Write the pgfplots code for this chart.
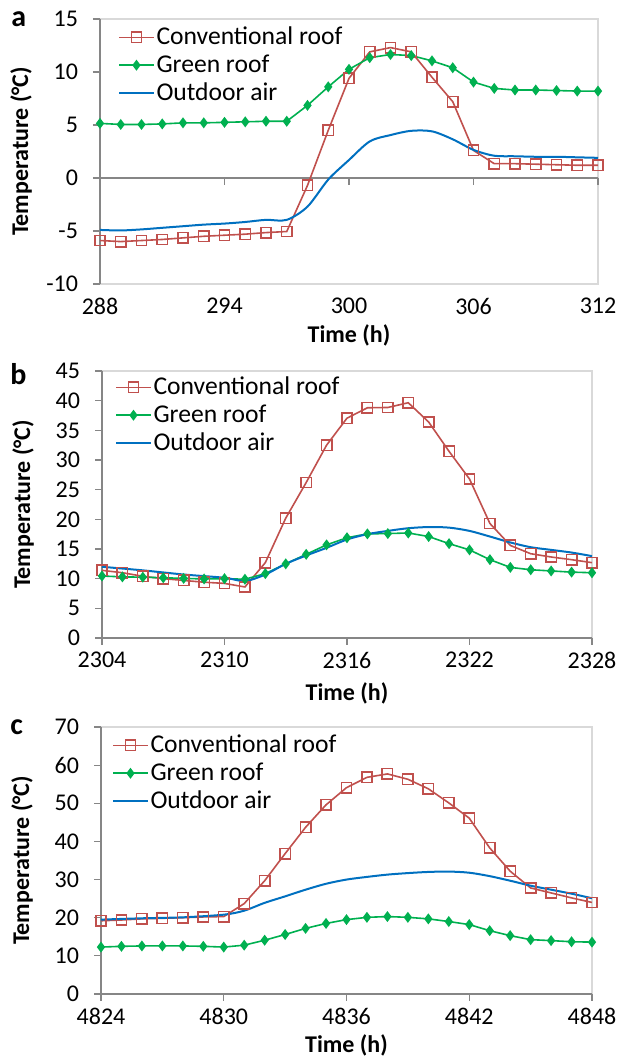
\documentclass[border=0pt]{standalone}
\usepackage{fontspec}
\setmainfont{Carlito}
\usepackage{pgfplots}
\pgfplotsset{compat=1.18}

\definecolor{convred}{HTML}{C0504D}
\definecolor{greenroof}{HTML}{00B050}
\definecolor{airblue}{HTML}{0070C0}
\definecolor{axgray}{HTML}{868686}
\definecolor{bordergray}{HTML}{D9D9D9}

\pgfplotsset{
  roofpanel/.style={
    scale only axis,
    axis line style={draw=none},
    tick align=outside,
    xtick pos=bottom, ytick pos=left,
    major tick length=3.5pt,
    tick style={axgray, line width=0.6pt},
    /pgf/number format/assume math mode=true,
    /pgf/number format/1000 sep={},
    tick label style={font=\fontsize{12}{14}\selectfont},
    yticklabel style={xshift=-4pt},
    every axis x label/.style={at={(axis description cs:0.5,0)}, anchor=center, yshift=-25.5pt,
      font=\bfseries\fontsize{12}{14}\selectfont},
    every axis y label/.style={at={(axis description cs:0,0.5)}, xshift=-39.5pt, rotate=90, anchor=center,
      font=\bfseries\fontsize{12}{14}\selectfont},
    xlabel={Time (h)},
    ylabel={Temperature (°C)},
    legend cell align=left,
    legend style={draw=none, fill=none, inner sep=0pt, row sep=0pt,
      font=\fontsize{12.8}{14}\selectfont, nodes={inner xsep=1pt, inner ysep=1.8pt},
      at={(0,1)}, anchor=north west},
    clip=false,
  },
  conv/.style={convred, line width=0.8pt, mark=square, mark size=2.6pt, mark options={fill=white, line width=0.75pt}},
  green/.style={greenroof, line width=0.8pt, mark=diamond*, mark size=2.1pt},
  air/.style={airblue, line width=1pt, no marks, smooth},
}

\begin{document}
\begin{tikzpicture}
\path[use as bounding box] (0pt,0pt) rectangle (308.5pt,529.5pt);

% panel a
\begin{axis}[roofpanel, at={(50pt,387.5pt)}, anchor=south west,
  width=249pt, height=132.5pt,
  xmin=288, xmax=312, ymin=-10, ymax=15,
  xtick={288,294,300,306,312},
  ytick={-10,-5,0,5,10,15}, yticklabels={-10,-5,0,5,10,15},
  major x tick style={draw=none},
  legend style={xshift=9pt, yshift=-2pt}]
\draw[bordergray, line width=0.6pt] (rel axis cs:0,0) -- (rel axis cs:1,0) -- (rel axis cs:1,1) -- (rel axis cs:0,1);
\draw[axgray, line width=0.6pt] (rel axis cs:0,0) -- (rel axis cs:0,1);
\draw[axgray, line width=0.6pt] (axis cs:288,0) -- (axis cs:312,0);
\pgfplotsinvokeforeach{288,294,300,306,312}{\draw[axgray, line width=0.6pt] (axis cs:#1,0) -- ++(0pt,-3.5pt);}
\addplot[conv] coordinates {
(288,-5.9) (289,-6.0) (290,-5.9) (291,-5.8) (292,-5.65) (293,-5.5) (294,-5.4) (295,-5.3)
(296,-5.15) (297,-5.05) (298,-0.7) (299,4.5) (300,9.4) (301,11.9) (302,12.3) (303,11.9)
(304,9.5) (305,7.2) (306,2.6) (307,1.35) (308,1.35) (309,1.3) (310,1.25) (311,1.2) (312,1.2)};
\addplot[green] coordinates {
(288,5.15) (289,5.05) (290,5.05) (291,5.1) (292,5.2) (293,5.2) (294,5.25) (295,5.3)
(296,5.35) (297,5.35) (298,6.85) (299,8.6) (300,10.25) (301,11.35) (302,11.65) (303,11.55)
(304,11.05) (305,10.4) (306,9.05) (307,8.45) (308,8.3) (309,8.3) (310,8.25) (311,8.2) (312,8.2)};
\addplot[air] coordinates {
(288,-4.9) (289,-4.95) (290,-4.85) (291,-4.7) (292,-4.55) (293,-4.4) (294,-4.3) (295,-4.15)
(296,-3.95) (297,-3.95) (298,-2.7) (299,-0.15) (300,1.7) (301,3.45) (302,4.05) (303,4.45)
(304,4.4) (305,3.65) (306,2.65) (307,2.1) (308,2.05) (309,2.0) (310,2.0) (311,1.95) (312,1.9)};
\legend{Conventional roof, Green roof, Outdoor air}
\end{axis}

% panel b
\begin{axis}[roofpanel, at={(51pt,210.5pt)}, anchor=south west,
  width=245pt, height=133.5pt,
  xmin=2304, xmax=2328, ymin=0, ymax=45,
  xtick={2304,2310,2316,2322,2328},
  ytick={0,5,...,45},
  every axis x label/.append style={yshift=-2pt},
  legend style={xshift=6.5pt, yshift=-1pt}]
\draw[bordergray, line width=0.6pt] (rel axis cs:1,0) -- (rel axis cs:1,1) -- (rel axis cs:0,1);
\draw[axgray, line width=0.6pt] (rel axis cs:0,1) -- (rel axis cs:0,0) -- (rel axis cs:1,0);
\addplot[conv] coordinates {
(2304,11.4) (2305,11.0) (2306,10.4) (2307,10.0) (2308,9.7) (2309,9.4) (2310,9.2) (2311,8.6)
(2312,12.7) (2313,20.2) (2314,26.2) (2315,32.5) (2316,37.05) (2317,38.8) (2318,38.85) (2319,39.65)
(2320,36.4) (2321,31.45) (2322,26.8) (2323,19.3) (2324,15.6) (2325,14.2) (2326,13.65) (2327,13.2) (2328,12.7)};
\addplot[green] coordinates {
(2304,10.45) (2305,10.3) (2306,10.25) (2307,10.15) (2308,10.05) (2309,9.95) (2310,10.0) (2311,9.9)
(2312,10.85) (2313,12.5) (2314,14.1) (2315,15.7) (2316,16.9) (2317,17.55) (2318,17.6) (2319,17.7)
(2320,17.1) (2321,15.9) (2322,14.85) (2323,13.2) (2324,11.9) (2325,11.5) (2326,11.3) (2327,11.1) (2328,11.0)};
\addplot[air] coordinates {
(2304,12.0) (2306,11.4) (2308,10.7) (2310,10.15) (2311,9.6) (2312,10.7) (2313,12.5) (2314,13.9)
(2315,15.2) (2316,16.6) (2317,17.5) (2318,18.05) (2319,18.5) (2320,18.7) (2321,18.6) (2322,18.05)
(2323,17.1) (2324,16.1) (2325,15.3) (2326,14.85) (2327,14.4) (2328,13.8)};
\legend{Conventional roof, Green roof, Outdoor air}
\end{axis}

% panel c
\begin{axis}[roofpanel, at={(50.5pt,32.5pt)}, anchor=south west,
  width=245.5pt, height=133.5pt,
  xmin=4824, xmax=4848, ymin=0, ymax=70,
  xtick={4824,4830,4836,4842,4848},
  ytick={0,10,...,70},
  legend style={xshift=5.5pt, yshift=-2pt}]
\draw[bordergray, line width=0.6pt] (rel axis cs:1,0) -- (rel axis cs:1,1) -- (rel axis cs:0,1);
\draw[axgray, line width=0.6pt] (rel axis cs:0,1) -- (rel axis cs:0,0) -- (rel axis cs:1,0);
\addplot[conv] coordinates {
(4824,19.2) (4825,19.4) (4826,19.7) (4827,19.85) (4828,20.0) (4829,20.2) (4830,20.3) (4831,23.7)
(4832,29.7) (4833,36.8) (4834,43.7) (4835,49.6) (4836,54.1) (4837,56.8) (4838,57.7) (4839,56.3)
(4840,53.8) (4841,50.1) (4842,46.1) (4843,38.3) (4844,32.2) (4845,27.8) (4846,26.5) (4847,25.2) (4848,24.0)};
\addplot[green] coordinates {
(4824,12.3) (4825,12.5) (4826,12.6) (4827,12.6) (4828,12.6) (4829,12.5) (4830,12.3) (4831,12.8)
(4832,14.1) (4833,15.6) (4834,17.2) (4835,18.5) (4836,19.5) (4837,20.1) (4838,20.3) (4839,20.1)
(4840,19.7) (4841,19.0) (4842,18.2) (4843,16.6) (4844,15.3) (4845,14.25) (4846,14.0) (4847,13.7) (4848,13.6)};
\addplot[air] coordinates {
(4824,19.5) (4826,19.85) (4828,20.1) (4830,20.8) (4831,21.85) (4832,23.9) (4833,25.6) (4834,27.35)
(4835,28.9) (4836,30.0) (4837,30.7) (4838,31.3) (4839,31.7) (4840,32.0) (4841,32.1) (4842,31.8)
(4843,30.9) (4844,29.7) (4845,28.4) (4846,27.35) (4847,26.3) (4848,25.1)};
\legend{Conventional roof, Green roof, Outdoor air}
\end{axis}

\node[anchor=base west, inner sep=0pt, font=\bfseries\fontsize{15}{18}\selectfont] at (5.5pt,516pt) {a};
\node[anchor=base west, inner sep=0pt, font=\bfseries\fontsize{15}{18}\selectfont] at (5pt,337pt) {b};
\node[anchor=base west, inner sep=0pt, font=\bfseries\fontsize{15}{18}\selectfont] at (5pt,162pt) {c};
\end{tikzpicture}
\end{document}
